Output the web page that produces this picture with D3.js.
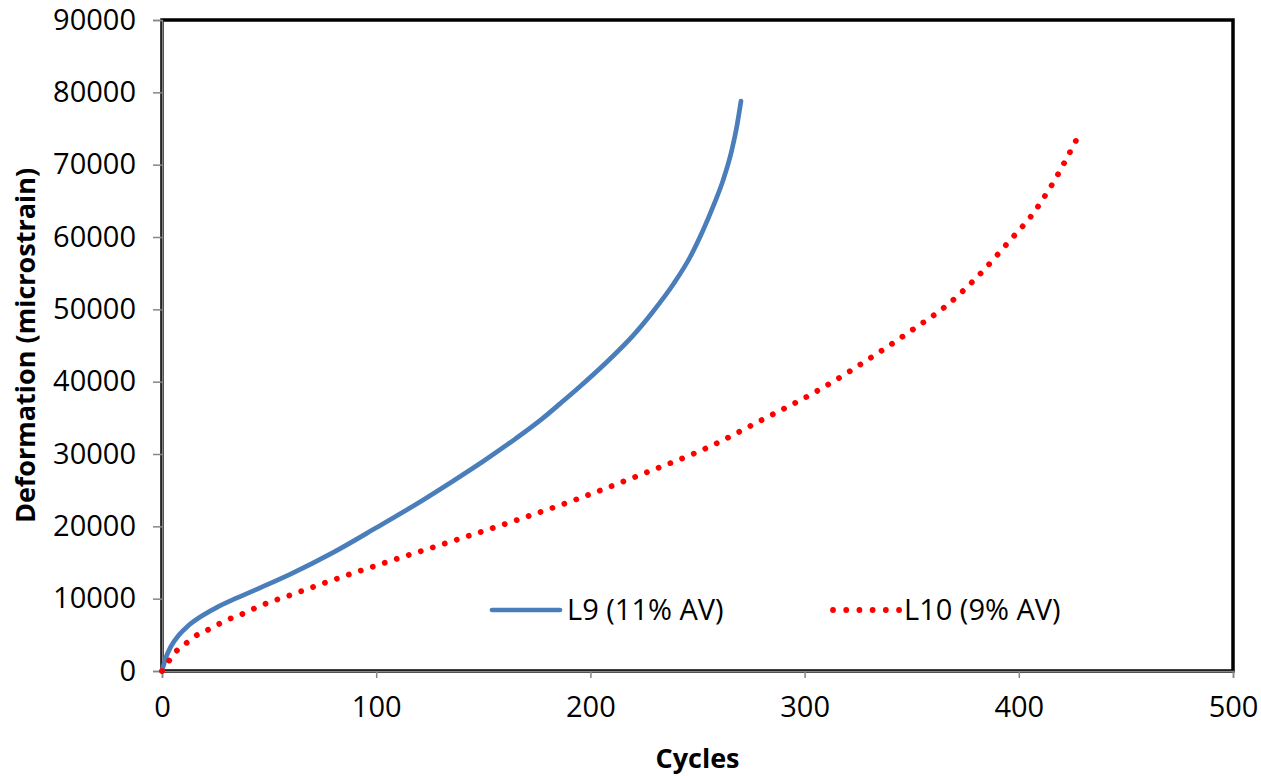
<!DOCTYPE html>
<html>
<head>
<meta charset="utf-8">
<script src="https://cdn.jsdelivr.net/npm/d3@7"></script>
<style>
  body { margin: 0; background: #fff; }
  text { font-family: "Open Sans", "Noto Sans", sans-serif; fill: #000; }
</style>
</head>
<body>
<div id="chart"></div>
<script>
// data
var l9Cycles = [0, 2, 4, 8, 12, 18, 25, 35, 45, 60, 80, 100, 120, 135, 150, 165, 178, 186, 195, 209, 220, 229, 239, 246.5, 252.7, 257.4, 262, 266, 268.3, 270.3];
var l9Strain = [0, 2000, 3300, 5000, 6200, 7500, 8700, 10100, 11400, 13400, 16400, 19800, 23300, 26100, 29000, 32100, 35000, 37000, 39300, 43100, 46400, 49600, 53600, 57200, 61000, 64300, 67900, 72000, 75200, 78800];

var l10Cycles = [0, 4, 7.5, 12, 17, 23, 28.5, 40, 45, 60, 80, 108, 135, 166, 195, 224, 257, 280, 304, 335, 350, 367, 380, 397, 405, 415, 427];
var l10Strain = [0, 1700, 3000, 4000, 5100, 5900, 6800, 8200, 8900, 10500, 12600, 15350, 17900, 20900, 23900, 27200, 31200, 34700, 38400, 44100, 47100, 50700, 54300, 59900, 62600, 67000, 73500];

var seriesNames = ["L9 (11% AV)", "L10 (9% AV)"];
var xTicks = [0, 100, 200, 300, 400, 500];
var yTicks = [0, 10000, 20000, 30000, 40000, 50000, 60000, 70000, 80000, 90000];

var svgWidth = 1261;
var svgHeight = 776;

var margin = { top: 20, right: 28, bottom: 105, left: 162 };
var width = svgWidth - margin.left - margin.right;
var height = svgHeight - margin.top - margin.bottom;

var svg = d3.select("#chart")
  .append("svg")
  .attr("width", svgWidth)
  .attr("height", svgHeight);

var chartGroup = svg.append("g")
  .attr("transform", `translate(${margin.left}, ${margin.top})`);

// scales
var xScale = d3.scaleLinear().domain([0, 500]).range([0, width]);
var yScale = d3.scaleLinear().domain([0, 90000]).range([height, 0]);

// plot frame
chartGroup.append("rect")
  .attr("x", 0)
  .attr("y", 0)
  .attr("width", width)
  .attr("height", height)
  .attr("fill", "none")
  .attr("stroke", "#000")
  .attr("stroke-width", 3.5);

// axes
var bottomAxis = d3.axisBottom(xScale).tickValues(xTicks).tickSize(7).tickPadding(17).tickFormat(d3.format("d"));
var leftAxis = d3.axisLeft(yScale).tickValues(yTicks).tickSize(9).tickPadding(17).tickFormat(d3.format("d"));

var xAxisG = chartGroup.append("g")
  .attr("transform", `translate(0, ${height})`)
  .call(bottomAxis);

var yAxisG = chartGroup.append("g")
  .call(leftAxis);

[xAxisG, yAxisG].forEach(function(g) {
  g.select(".domain").attr("stroke", "#868686").attr("stroke-width", 1.5);
  g.selectAll(".tick line").attr("stroke", "#868686").attr("stroke-width", 1.5);
  g.selectAll(".tick text")
    .attr("font-family", "'Open Sans', sans-serif")
    .attr("font-size", 29)
    .attr("fill", "#000");
});
xAxisG.selectAll(".tick text").attr("dy", "0.75em");

// lines
var line = d3.line()
  .x(d => xScale(d[0]))
  .y(d => yScale(d[1]))
  .curve(d3.curveMonotoneX);

var l9Data = l9Cycles.map((c, i) => [c, l9Strain[i]]);
var l10Data = l10Cycles.map((c, i) => [c, l10Strain[i]]);

chartGroup.append("path")
  .datum(l9Data)
  .attr("d", line)
  .attr("fill", "none")
  .attr("stroke", "#4a7ebb")
  .attr("stroke-width", 4.7)
  .attr("stroke-linecap", "round");

chartGroup.append("path")
  .datum(l10Data)
  .attr("d", line)
  .attr("fill", "none")
  .attr("stroke", "#ff0000")
  .attr("stroke-width", 5.8)
  .attr("stroke-linecap", "round")
  .attr("stroke-dasharray", "0.01 12.6");

// legend
var legend = svg.append("g");

legend.append("line")
  .attr("x1", 492).attr("x2", 560)
  .attr("y1", 610).attr("y2", 610)
  .attr("stroke", "#4a7ebb")
  .attr("stroke-width", 4.7)
  .attr("stroke-linecap", "round");

legend.append("text")
  .attr("x", 567)
  .attr("y", 610)
  .attr("dy", "0.35em")
  .attr("font-size", 29)
  .text(seriesNames[0]);

legend.append("line")
  .attr("x1", 833).attr("x2", 900)
  .attr("y1", 610).attr("y2", 610)
  .attr("stroke", "#ff0000")
  .attr("stroke-width", 5.8)
  .attr("stroke-linecap", "round")
  .attr("stroke-dasharray", "0.01 13.2");

legend.append("text")
  .attr("x", 904)
  .attr("y", 610)
  .attr("dy", "0.35em")
  .attr("font-size", 29)
  .text(seriesNames[1]);

// axis titles
svg.append("text")
  .attr("x", margin.left + width / 2)
  .attr("y", 768)
  .attr("text-anchor", "middle")
  .attr("font-size", 27)
  .attr("font-weight", "bold")
  .text("Cycles");

svg.append("text")
  .attr("transform", `translate(35, ${margin.top + height / 2}) rotate(-90)`)
  .attr("text-anchor", "middle")
  .attr("font-size", 27)
  .attr("font-weight", "bold")
  .text("Deformation (microstrain)");
</script>
</body>
</html>
